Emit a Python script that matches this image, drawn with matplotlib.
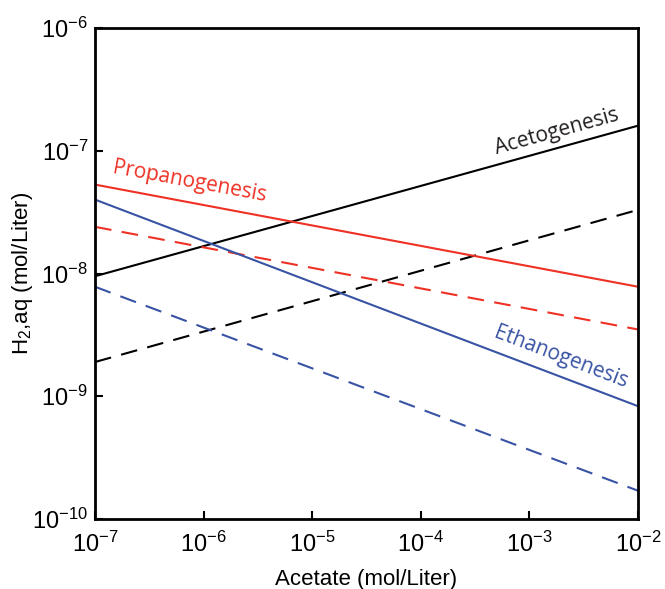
import numpy as np
import matplotlib.pyplot as plt

# acetate concentration range (mol/L) - endpoints of each line
acetate = [1e-7, 1e-2]

aceto_solid = [9.5e-9, 1.6e-7]
aceto_dash = [1.9e-9, 3.3e-8]
propano_solid = [5.3e-8, 7.8e-9]
propano_dash = [2.4e-8, 3.5e-9]
ethano_solid = [4.0e-8, 8.3e-10]
ethano_dash = [7.8e-9, 1.7e-10]

xticks = [1e-7, 1e-6, 1e-5, 1e-4, 1e-3, 1e-2]
yticks = [1e-10, 1e-9, 1e-8, 1e-7, 1e-6]
xticklabels = ['$10^{-7}$', '$10^{-6}$', '$10^{-5}$', '$10^{-4}$', '$10^{-3}$', '$10^{-2}$']
yticklabels = ['$10^{-10}$', '$10^{-9}$', '$10^{-8}$', '$10^{-7}$', '$10^{-6}$']

RED = '#ee3124'
BLUE = '#3953a4'

plt.rcParams['font.family'] = ['Liberation Sans', 'DejaVu Sans']
plt.rcParams['mathtext.fontset'] = 'custom'
plt.rcParams['mathtext.rm'] = 'Liberation Sans'
plt.rcParams['mathtext.it'] = 'Liberation Sans'
plt.rcParams['mathtext.default'] = 'rm'
plt.rcParams['axes.unicode_minus'] = False

fig = plt.figure(figsize=(6.65, 5.89), dpi=100)
ax = fig.add_axes([95 / 665, 70 / 589, 543 / 665, 491 / 589])

ax.plot(acetate, aceto_solid, color='black', lw=1.5)
ax.plot(acetate, aceto_dash, color='black', lw=1.5, dashes=(8, 5))
ax.plot(acetate, propano_solid, color=RED, lw=1.5)
ax.plot(acetate, propano_dash, color=RED, lw=1.5, dashes=(8, 5))
ax.plot(acetate, ethano_solid, color=BLUE, lw=1.5)
ax.plot(acetate, ethano_dash, color=BLUE, lw=1.5, dashes=(8, 5))

ax.set_xscale('log')
ax.set_yscale('log')
ax.set_xlim(1e-7, 1e-2)
ax.set_ylim(1e-10, 1e-6)
ax.set_xticks(xticks)
ax.set_xticklabels(xticklabels)
ax.set_yticks(yticks)
ax.set_yticklabels(yticklabels)
ax.minorticks_off()
ax.tick_params(direction='in', length=6, width=1.5, labelsize=17)
ax.tick_params(axis='x', pad=9)
ax.tick_params(axis='y', pad=5)
for s in ax.spines.values():
    s.set_linewidth(2)

ax.set_xlabel('Acetate (mol/Liter)', fontsize=16, labelpad=9)
ax.set_ylabel('H$_2$,aq (mol/Liter)', fontsize=16, labelpad=-2)

lab = dict(family='Open Sans', fontsize=15)
ax.text(1.8e-3, 1.43e-7, 'Acetogenesis', rotation=15.5, ha='center', va='center',
        color='#231f20', **lab)
ax.text(7.5e-7, 5.6e-8, 'Propanogenesis', rotation=-10.5, ha='center', va='center',
        color=RED, **lab)
ax.text(1.95e-3, 2.07e-9, 'Ethanogenesis', rotation=-21, ha='center', va='center',
        color=BLUE, **lab)

fig.savefig('out.png', dpi=100)
